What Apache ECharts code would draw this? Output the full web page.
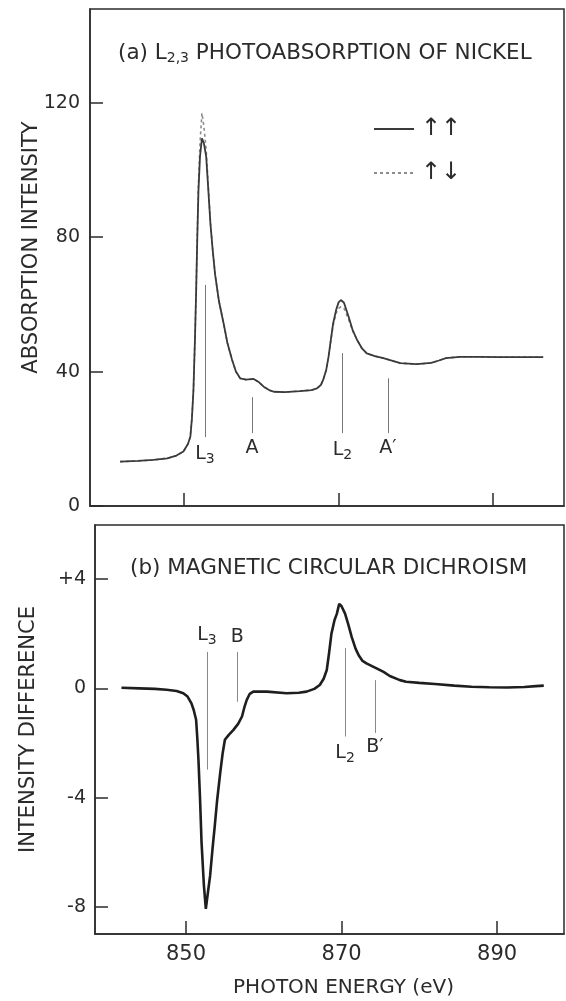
<!DOCTYPE html>
<html>
<head>
<meta charset="utf-8">
<script src="https://cdn.jsdelivr.net/npm/echarts@6/dist/echarts.min.js"></script>
<style>
html, body { margin: 0; padding: 0; background: #fff; }
#chart { width: 566px; height: 1001px; }
</style>
</head>
<body>
<div id="chart"></div>
<script>
// (a) L2,3 absorption of Ni (eV, arb. units)
var absEnergy = [841.7, 844, 846, 847.8, 849, 849.9, 850.5, 850.8, 851.0, 851.2, 851.4, 851.55, 851.7, 851.85, 852.05, 852.3, 852.55, 852.85, 853.1, 853.4, 853.7, 854.0, 854.5, 855.1, 855.6, 856.2, 856.7, 857.25, 858, 859, 859.7, 860.3, 861, 861.6, 863, 865, 866.5, 867.2, 867.7, 868, 868.4, 868.7, 869.0, 869.3, 869.7, 870.0, 870.3, 870.7, 871.3, 871.8, 872.4, 873, 873.65, 874.7, 875.8, 877, 878, 880.1, 882, 883, 883.9, 885.7, 888, 891, 894, 896.5];
var absParallel = [13.2, 13.4, 13.7, 14.2, 15.0, 16.2, 18.5, 20.6, 26, 34.5, 50, 64, 80, 94, 104, 109.4, 108, 104, 95, 84, 76, 69, 61, 54.4, 48.5, 43.5, 40, 38, 37.6, 37.8, 36.8, 35.5, 34.5, 34, 33.9, 34.2, 34.5, 35, 36, 37.5, 40.5, 44.4, 49.5, 54.4, 58.5, 60.6, 61.3, 60.5, 56.3, 52.5, 49.4, 47, 45.4, 44.6, 44, 43.2, 42.5, 42.2, 42.6, 43.3, 44, 44.4, 44.4, 44.3, 44.3, 44.3];
var absAntiparallel = [13.2, 13.4, 13.7, 14.2, 15.0, 16.2, 18.5, 20.6, 26, 34.5, 50, 64, 81, 96, 108, 116.9, 113, 106, 96, 84.5, 76, 69, 61, 54.4, 48.5, 43.5, 40, 38, 37.6, 37.8, 36.8, 35.5, 34.5, 34, 33.9, 34.2, 34.5, 35, 36, 37.5, 40.5, 44.4, 49.2, 53.8, 57.5, 58.8, 59.3, 58.8, 55.5, 52.2, 49.4, 47, 45.4, 44.6, 44, 43.2, 42.5, 42.2, 42.6, 43.3, 44, 44.4, 44.4, 44.3, 44.3, 44.3];

// (b) circular dichroism
var mcdEnergy = [841.7, 844, 846, 847.5, 848.8, 849.65, 850.2, 850.7, 851.0, 851.3, 851.45, 851.6, 851.8, 852.0, 852.3, 852.55, 852.8, 853.1, 853.4, 853.7, 854.0, 854.4, 854.7, 855.0, 855.5, 856.1, 856.7, 857.2, 857.5, 857.8, 858.2, 858.65, 860.4, 862.95, 864.5, 865.5, 866.5, 867.2, 867.7, 868.1, 868.4, 868.7, 869.1, 869.4, 869.7, 870.0, 870.45, 870.9, 871.3, 871.8, 872.2, 872.7, 873.2, 874.5, 875.4, 876.2, 877.5, 878.3, 880, 882, 884.5, 886.7, 889, 891.3, 893.5, 895, 896];
var mcdDiff = [0.02, 0.0, -0.02, -0.05, -0.1, -0.18, -0.3, -0.55, -0.8, -1.15, -1.8, -2.6, -4.0, -5.64, -7.2, -8.06, -7.5, -6.85, -5.9, -5.03, -4.1, -3.09, -2.4, -1.88, -1.7, -1.52, -1.3, -1.03, -0.7, -0.43, -0.2, -0.12, -0.12, -0.18, -0.16, -0.12, -0.02, 0.12, 0.35, 0.67, 1.3, 2.0, 2.5, 2.73, 3.09, 3.0, 2.73, 2.3, 1.88, 1.45, 1.21, 1.0, 0.91, 0.73, 0.6, 0.45, 0.3, 0.24, 0.2, 0.16, 0.1, 0.06, 0.04, 0.03, 0.05, 0.08, 0.1];

var energyTicks = [850, 870, 890];
var absTicks = [0, 40, 80, 120];
var mcdTicks = [-8, -4, 0, 4];

// feature markers: energy, label-end value, other-end value, label
var absMarks = [
    [852.7, 20.5, 65.8, 'L{s|3}'],
    [858.8, 21.7, 32.4, 'A'],
    [870.5, 21.7, 45.5, 'L{s|2}'],
    [876.4, 21.7, 38, 'A\u2032']
];
var mcdMarks = [
    [852.7, 1.33, -2.97, 'L{s|3}'],
    [856.6, 1.33, -0.49, 'B'],
    [870.45, -1.76, 1.47, 'L{s|2}'],
    [874.3, -1.63, 0.3, 'B\u2032']
];

var FONT = 'DejaVu Sans';
var INK = '#2b2b2b';

function pairs(xs, ys) {
    return xs.map(function (x, i) { return [x, ys[i]]; });
}

function markerLines(marks, color) {
    return {
        silent: true,
        animation: false,
        symbol: ['none', 'none'],
        lineStyle: { color: color, width: 1, type: 'solid' },
        label: {
            position: 'start',
            distance: 5,
            fontFamily: FONT,
            fontSize: 19,
            color: INK,
            rich: { s: { fontFamily: FONT, fontSize: 14, padding: [10, 0, 0, 0], verticalAlign: 'bottom', color: INK } }
        },
        data: marks.map(function (m) {
            return [
                { coord: [m[0], m[1]], label: { formatter: m[3] } },
                { coord: [m[0], m[2]] }
            ];
        })
    };
}

var axisLineStyle = { color: INK, width: 1.5 };

var chart = echarts.init(document.getElementById('chart'));

option = {
    backgroundColor: '#fff',
    animation: false,
    title: [
        {
            left: 118, top: 41, padding: 0,
            text: '(a) L{s|2,3} PHOTOABSORPTION OF NICKEL',
            textStyle: {
                fontFamily: FONT, fontSize: 21.5, fontWeight: 'normal', color: INK, lineHeight: 24,
                rich: { s: { fontFamily: FONT, fontSize: 14, lineHeight: 14, padding: [14, 0, 0, 0], verticalAlign: 'bottom', color: INK } }
            }
        },
        {
            left: 130, top: 557, padding: 0,
            text: '(b) MAGNETIC CIRCULAR DICHROISM',
            textStyle: { fontFamily: FONT, fontSize: 21.5, fontWeight: 'normal', color: INK }
        }
    ],
    legend: {
        orient: 'vertical',
        left: 373, top: 117, padding: 0,
        itemWidth: 40, itemHeight: 20, itemGap: 20,
        selectedMode: false,
        itemStyle: { opacity: 0 },
        data: ['parallel', 'antiparallel'],
        formatter: function (n) { return n === 'parallel' ? '\u2191\u2191' : '\u2191\u2193'; },
        textStyle: { fontFamily: FONT, fontSize: 24, color: INK, padding: [0, 0, 0, 2] }
    },
    grid: [
        { left: 90, right: 2, top: 9, height: 497, show: true, borderColor: INK, borderWidth: 1.5 },
        { left: 95, right: 2, top: 525, height: 409, show: true, borderColor: INK, borderWidth: 1.5 }
    ],
    xAxis: [
        {
            gridIndex: 0, type: 'value', min: 837.8, max: 899.2,
            axisLine: { onZero: false, lineStyle: axisLineStyle },
            axisTick: { inside: true, length: 13, customValues: energyTicks, lineStyle: axisLineStyle },
            axisLabel: { show: false },
            splitLine: { show: false }
        },
        {
            gridIndex: 1, type: 'value', min: 838.3, max: 898.6,
            axisLine: { onZero: false, lineStyle: axisLineStyle },
            axisTick: { inside: true, length: 13, customValues: energyTicks, lineStyle: axisLineStyle },
            axisLabel: { customValues: energyTicks, fontFamily: FONT, fontSize: 21, color: INK, margin: 10 },
            splitLine: { show: false },
            name: 'PHOTON ENERGY (eV)',
            nameLocation: 'middle',
            nameGap: 44,
            nameTextStyle: { fontFamily: FONT, fontSize: 20, color: INK, padding: [0, 0, 0, 28] }
        }
    ],
    yAxis: [
        {
            gridIndex: 0, type: 'value', min: 0, max: 147.9,
            axisLine: { lineStyle: axisLineStyle },
            axisTick: { inside: true, length: 13, customValues: absTicks, lineStyle: axisLineStyle },
            axisLabel: { customValues: absTicks, fontFamily: FONT, fontSize: 19, color: INK, margin: 10 },
            splitLine: { show: false },
            name: 'ABSORPTION INTENSITY',
            nameLocation: 'middle',
            nameGap: 48,
            nameMoveOverlap: false,
            nameTextStyle: { fontFamily: FONT, fontSize: 21, color: INK, padding: [0, 0, 0, 20] }
        },
        {
            gridIndex: 1, type: 'value', min: -8.98, max: 5.97,
            axisLine: { lineStyle: axisLineStyle },
            axisTick: { inside: true, length: 13, customValues: mcdTicks, lineStyle: axisLineStyle },
            axisLabel: {
                customValues: mcdTicks, fontFamily: FONT, fontSize: 19, color: INK, margin: 9,
                formatter: function (v) { return v > 0 ? '+' + v : (v < 0 ? '-' + Math.abs(v) : '0'); }
            },
            splitLine: { show: false },
            name: 'INTENSITY DIFFERENCE',
            nameLocation: 'middle',
            nameGap: 56,
            nameTextStyle: { fontFamily: FONT, fontSize: 21, color: INK }
        }
    ],
    series: [
        {
            name: 'antiparallel', type: 'line', xAxisIndex: 0, yAxisIndex: 0,
            symbol: 'none', smooth: false, color: '#8c8c8c',
            lineStyle: { color: '#8c8c8c', width: 1.6, type: [3, 3] },
            data: pairs(absEnergy, absAntiparallel)
        },
        {
            name: 'parallel', type: 'line', xAxisIndex: 0, yAxisIndex: 0,
            symbol: 'none', smooth: false, color: '#3a3a3a',
            lineStyle: { color: '#3a3a3a', width: 1.8 },
            data: pairs(absEnergy, absParallel),
            markLine: markerLines(absMarks, '#777')
        },
        {
            name: 'dichroism', type: 'line', xAxisIndex: 1, yAxisIndex: 1,
            symbol: 'none', smooth: false, color: '#1e1e1e',
            lineStyle: { color: '#1e1e1e', width: 2.6 },
            data: pairs(mcdEnergy, mcdDiff),
            markLine: markerLines(mcdMarks, '#888')
        }
    ]
};

chart.setOption(option);
</script>
</body>
</html>
